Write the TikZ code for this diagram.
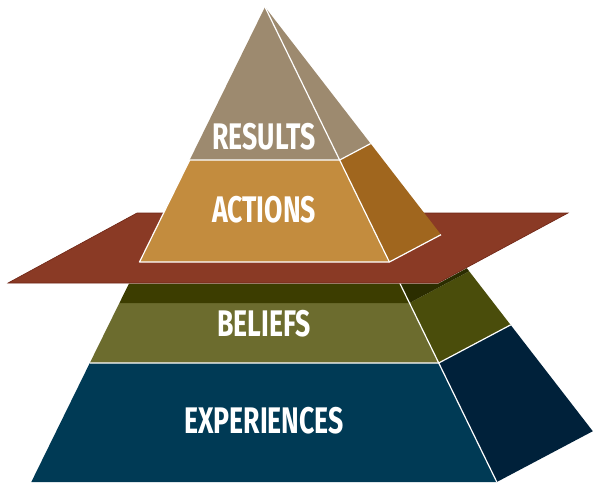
\documentclass[tikz,border=0pt]{standalone}
\usepackage{fontspec}
\usepackage{xcolor}
\usepackage{tikz}
\newfontfamily\tagfont[FakeStretch=0.72]{Fira Sans}
\definecolor{resultsc}{HTML}{9D8A6F}
\definecolor{actionsc}{HTML}{C38C3E}
\definecolor{actionsside}{HTML}{A0661E}
\definecolor{planec}{HTML}{8A3A25}
\definecolor{planeedge}{HTML}{6E2414}
\definecolor{beliefsc}{HTML}{6C6C2E}
\definecolor{beliefsside}{HTML}{4A4D0B}
\definecolor{bandc}{HTML}{3C3D00}
\definecolor{bandside}{HTML}{2B2D00}
\definecolor{expc}{HTML}{003A55}
\definecolor{expside}{HTML}{00213A}
\tikzset{edge/.style={white, line width=1.2pt, line join=round},
	tag/.style={text=white, font=\tagfont\bfseries\fontsize{37}{37}\selectfont}}

\begin{document}
\begin{tikzpicture}[x=1pt,y=-1pt]
			\useasboundingbox (0,0) rectangle (600,488);
			% corners of the pyramid
			\coordinate (apex) at (265,7);
			\coordinate (fl1) at (189.7,160);  \coordinate (fr1) at (339.7,160);  \coordinate (br1) at (370.6,143.6);
			\coordinate (fl2) at (139.5,262);  \coordinate (fr2) at (389.4,262);  \coordinate (br2) at (441.0,234.7);
			\coordinate (fl3) at (132.2,277);  \coordinate (fr3) at (396.8,277);  \coordinate (br3) at (451.3,248.1);
			\coordinate (fl4) at (119.4,303);  \coordinate (fr4) at (409.4,303);  \coordinate (br4) at (469.2,271.3);
			\coordinate (fl5) at (89.8,363);   \coordinate (fr5) at (438.7,363);  \coordinate (br5) at (510.6,324.9);
			\coordinate (fl6) at (31.3,482);   \coordinate (fr6) at (496.8,482);  \coordinate (br6) at (592.8,431.2);
			% lower part
			\fill[expc] (fl5) -- (fr5) -- (fr6) -- (fl6) -- cycle;
			\fill[expside] (fr5) -- (br5) -- (br6) -- (fr6) -- cycle;
			\fill[beliefsc] (fl4) -- (fr4) -- (fr5) -- (fl5) -- cycle;
			\fill[beliefsside] (fr4) -- (br4) -- (br5) -- (fr5) -- cycle;
			\fill[bandc] (fl3) -- (fr3) -- (fr4) -- (fl4) -- cycle;
			\fill[bandside] (fr3) -- (br3) -- (br4) -- (fr4) -- cycle;
			\draw[edge] (fr3) -- (fr6);
			\draw[edge] (fl5) -- (fr5) -- (br5);
			% plane
			\coordinate (p1) at (8,283);
			\coordinate (p2) at (438,283);
			\coordinate (p3) at (568,213);
			\coordinate (p4) at (137,213);
			\draw[white, line width=1pt] (p1) -- (p2) -- (p3);
			\fill[planec, draw=planeedge, line width=0.6pt] (p1) -- (p2) -- (p3) -- (p4) -- cycle;
			% upper part
			\fill[actionsc] (fl1) -- (fr1) -- (fr2) -- (fl2) -- cycle;
			\fill[actionsside] (fr1) -- (br1) -- (br2) -- (fr2) -- cycle;
			\fill[resultsc] (apex) -- (fr1) -- (fl1) -- cycle;
			\fill[resultsc] (apex) -- (br1) -- (fr1) -- cycle;
			\draw[edge] (fl1) -- (fl2) -- (fr2) -- (br2);
			\draw[edge] (apex) -- (fr2);
			\draw[edge] (fl1) -- (fr1) -- (br1);
			% labels
			\node[tag] (results) at (264,137) {RESULTS};
			\node[tag] (actions) at (264,210) {ACTIONS};
			\node[tag] (beliefs) at (264,324) {BELIEFS};
			\node[tag] (experiences) at (264,421) {EXPERIENCES};
		\end{tikzpicture}
\end{document}
